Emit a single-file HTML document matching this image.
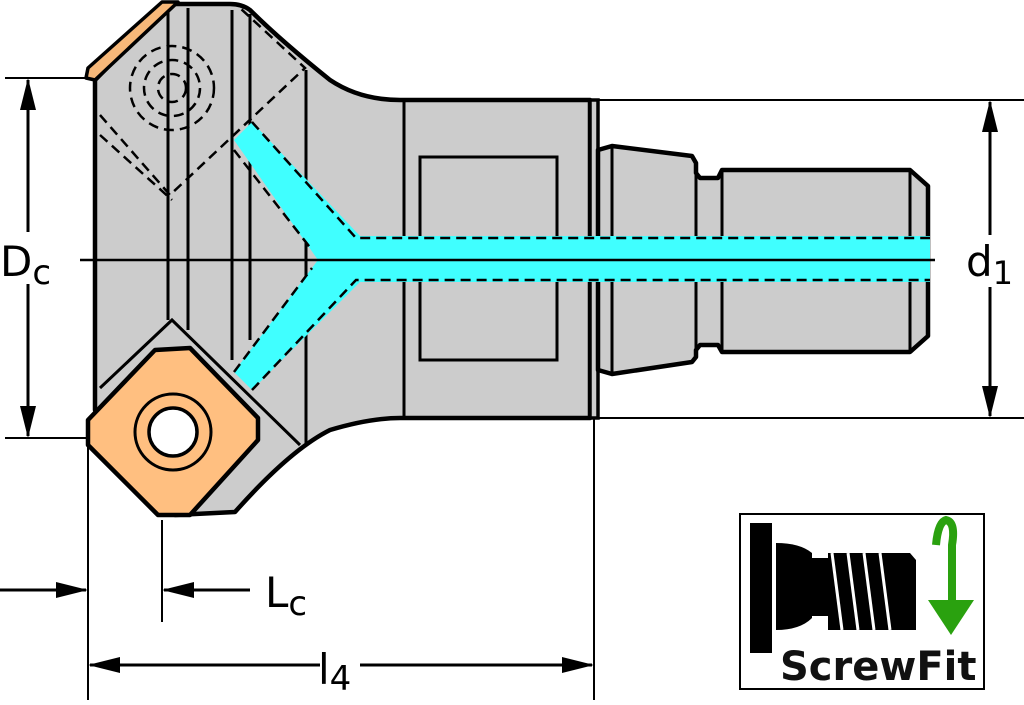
<!DOCTYPE html>
<html><head><meta charset="utf-8"><style>
html,body{margin:0;padding:0;background:#fff;width:1024px;height:705px;overflow:hidden}
svg{display:block}
text{font-family:"DejaVu Sans","Liberation Sans",sans-serif}
</style></head><body>
<svg width="1024" height="705" viewBox="0 0 1024 705" xmlns="http://www.w3.org/2000/svg">
<defs>
<marker id="ar" markerWidth="32" markerHeight="16" refX="30" refY="8" orient="auto" markerUnits="userSpaceOnUse">
<path d="M0,0 L32,8 L0,16 Z" fill="#000"/></marker>
</defs>
<g stroke="#000" stroke-width="2" fill="none">
<line x1="5" y1="78" x2="90" y2="78"/>
<line x1="5" y1="438" x2="90" y2="438"/>
<line x1="590" y1="100" x2="1024" y2="100"/>
<line x1="590" y1="418" x2="1024" y2="418"/>
<line x1="88" y1="440" x2="88" y2="700"/>
<line x1="594" y1="418" x2="594" y2="700"/>
<line x1="162" y1="520" x2="162" y2="622"/>
</g>
<path d="M95,80 L95,410 L175,515 L235,512 Q290,450 330,430 Q370,418 400,418 L590,418 L590,100 L400,100 Q360,100 330,80 Q280,40 250,10 Q242,4 230,4 L170,4 Z" fill="#cccccc" stroke="#000" stroke-width="4.5" stroke-linejoin="round"/>
<rect x="590" y="100" width="8" height="318" fill="#cccccc" stroke="#000" stroke-width="3.5"/>
<path d="M598,150 L612,146 L692,156 L696,163 L696,173 L700,178 L718,178 L722,170 L910,170 L928,186 L928,336 L910,352 L722,352 L718,345 L700,345 L696,350 L696,357 L692,362 L612,374 L598,370 Z" fill="#cccccc" stroke="#000" stroke-width="4.5" stroke-linejoin="round"/>
<g stroke="#000" stroke-width="3" fill="none">
<line x1="612" y1="148" x2="612" y2="372"/>
<line x1="696" y1="163" x2="696" y2="357"/>
<line x1="722" y1="172" x2="722" y2="350"/>
<line x1="910" y1="172" x2="910" y2="350"/>
<line x1="404" y1="102" x2="404" y2="416"/>
<line x1="306" y1="70" x2="306" y2="445"/>
<line x1="168" y1="8" x2="168" y2="320"/>
<line x1="188" y1="8" x2="188" y2="330"/>
<line x1="232" y1="10" x2="232" y2="360"/>
<line x1="250" y1="14" x2="250" y2="340"/>
<rect x="420" y="157" width="137" height="203"/>
</g>
<g stroke="#000" stroke-width="2.5" stroke-dasharray="10,6" fill="none">
<path d="M100,115 L170,195 L305,68 L240,8"/>
<path d="M100,135 L172,200"/>
<circle cx="172" cy="88" r="42"/>
<circle cx="172" cy="88" r="28"/>
<circle cx="172" cy="88" r="14"/>
</g>
<path d="M234,140 L252,122 L360,236 L930,236 L930,282 L360,282 L252,390 L234,372 L318,260 Z" fill="#40ffff"/>
<g stroke="#000" stroke-width="2.5" stroke-dasharray="10,6" fill="none">
<path d="M252,122 L356,238 L930,238"/>
<path d="M234,150 L312,250"/>
<path d="M234,372 L312,268"/>
<path d="M252,390 L356,280 L930,280"/>
</g>
<path d="M86,78 L88,68 L162,2 L178,2 L95,80 Z" fill="#f7b879" stroke="#000" stroke-width="3.5" stroke-linejoin="round"/>
<path d="M100,388 L172,320 L300,445" fill="none" stroke="#000" stroke-width="3"/>
<path d="M88,420 L155,350 L190,348 L258,418 L258,440 L190,515 L158,515 L88,445 Z" fill="#ffbf80" stroke="#000" stroke-width="4.5" stroke-linejoin="round"/>
<circle cx="173" cy="432" r="38" fill="none" stroke="#000" stroke-width="3"/>
<circle cx="173" cy="432" r="24" fill="#fff" stroke="#000" stroke-width="3.5"/>
<line x1="80" y1="260" x2="935" y2="260" stroke="#000" stroke-width="2.5"/>
<g stroke="#000" stroke-width="3">
<line x1="28" y1="260" x2="28" y2="80" marker-end="url(#ar)"/>
<line x1="28" y1="260" x2="28" y2="436" marker-end="url(#ar)"/>
<line x1="990" y1="250" x2="990" y2="102" marker-end="url(#ar)"/>
<line x1="990" y1="250" x2="990" y2="416" marker-end="url(#ar)"/>
<line x1="0" y1="590" x2="86" y2="590" marker-end="url(#ar)"/>
<line x1="250" y1="590" x2="164" y2="590" marker-end="url(#ar)"/>
<line x1="320" y1="665" x2="90" y2="665" marker-end="url(#ar)"/>
<line x1="360" y1="665" x2="592" y2="665" marker-end="url(#ar)"/>
</g>
<rect x="0" y="232" width="58" height="52" fill="#fff"/>
<text x="0" y="276" font-size="42">D<tspan font-size="34" dy="8">c</tspan></text>
<rect x="962" y="235" width="58" height="52" fill="#fff"/>
<text x="966" y="276" font-size="42">d<tspan font-size="32" dy="8">1</tspan></text>
<text x="265" y="607" font-size="42">L<tspan font-size="34" dy="8">c</tspan></text>
<text x="318" y="684" font-size="42">l<tspan font-size="34" dy="6">4</tspan></text>
<rect x="740" y="514" width="244" height="175" fill="#fff" stroke="#000" stroke-width="2"/>
<rect x="750" y="523" width="22" height="130" fill="#000"/>
<path d="M776,543 Q800,543 812,553 L812,618 Q800,630 776,630 Z" fill="#000"/>
<rect x="812" y="558" width="16" height="58" fill="#000"/>
<path d="M828,553 L910,553 L916,560 L916,630 L828,630 Z" fill="#000"/>
<g stroke="#fff" stroke-width="3">
<line x1="832" y1="553" x2="842" y2="630"/>
<line x1="848" y1="553" x2="858" y2="630"/>
<line x1="864" y1="553" x2="874" y2="630"/>
<line x1="880" y1="553" x2="890" y2="630"/>
</g>
<path d="M936,545 Q938,522 946,520 Q956,522 952,545 L952,602" fill="none" stroke="#2aa10f" stroke-width="8"/>
<path d="M928,600 L974,600 L951,635 Z" fill="#2aa10f"/>
<text x="780" y="680" font-size="40" font-weight="bold" fill="#111">ScrewFit</text>
</svg>
</body></html>
